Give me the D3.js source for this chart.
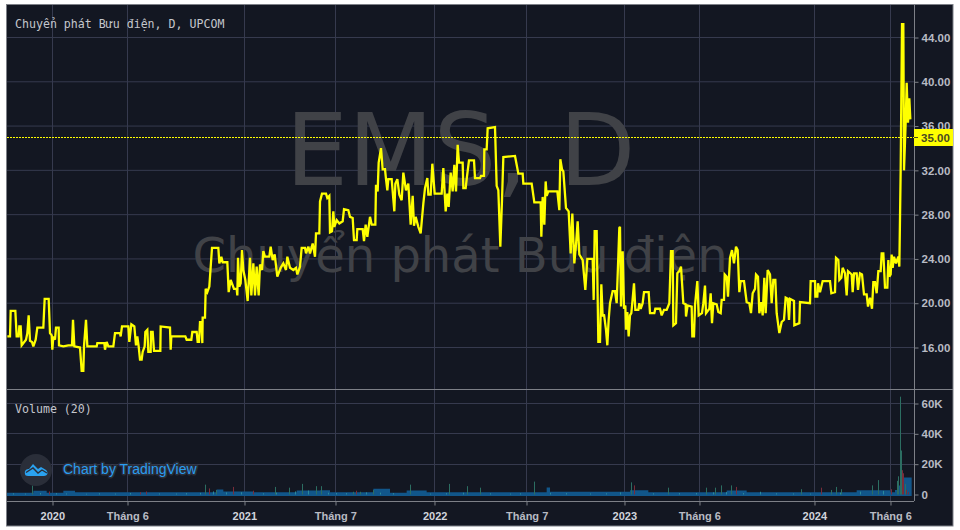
<!DOCTYPE html>
<html><head><meta charset="utf-8">
<script src="https://d3js.org/d3.v7.min.js"></script>
<style>
html,body{margin:0;padding:0;background:#fff;overflow:hidden}
svg{display:block}
</style></head><body><svg id="c" width="960" height="530"></svg>
<script>
// time position index on the chart's session axis
const priceT=[22,30,32,46,50,56,58,62,65,78,82,86,90,96,100,107,112,130,134,146,150,155,157,160,165,168,176,177,190,205,216,219,223,240,245,250,252,258,262,290,292,313,315,320,325,340,345,360,362,366,385,388,394,403,408,412,416,420,425,428,434,436,442,445,452,453,458,462,481,482,510,512,514,556,560,574,577,590,593,597,600,604,607,608,615,617,622,628,636,655,658,664,668,682,686,692,702,710,712,714,718,722,726,730,736,743,750,754,760,765,770,776,780,786,790,795,808,812,818,824,832,842,850,858,862,870,880,888,892,900,
905,915,918,925,930,938,945,948,958,960,966,978,982,988,990,996,1000,1003,1010,1018,1028,1032,1045,1050,1058,1062,1070,1072,1088,1092,1097,1102,1110,1115,1126,1128,1133,1136,1143,1148,1155,1158,1162,1165,1175,1183,1186,1192,1198,1205,1210,1218,1225,1232,1238,1242,1247,1255,1262,1270,1275,1282,1285,1292,1297,1304,1325,1330,1337,1342,1346,1352,1358,1363,1368,1373,1377,1388,1390,1397,1400,1407,1422,1425,1440,1443,1452,1453,1460,1463,1485,1490,1495,1501,1506,1510,1545,1550,1555,1568,1570,1595,1603,1622,1624,1628,1633,1637,1640,1645,1672,1678,1681,1686,1690,1698,1706,1712,1717,1723,1728,1733,1738,1748,1756,1762,1778,1781,1784,1790,1795,1800,1804,1808,1812,1818,1822,1826,1830,1838,1845,1850,1858,
1860,1863,1868,1872,1876,1878,1882,1886,1890,1894,1898,1902,1906,1915,1918,1922,1928,1932,1946,1950,1963,1966,1980,1985,1992,2000,2008,2013,2018,2020,2028,2032,2038,2043,2050,2057,2058,2063,2075,2077,2082,2085,2092,2096,2106,2110,2115,2118,2128,2132,2136,2140,2150,2155,2162,2165,2172,2174,2180,2184,2190,2196,2202,2208,2213,2218,2222,2232,2240,2248,2253,2258,2265,2268,2274,2278,2284,2288,2293,2297,2303,2310,2315,2320,2326,2330,2338,2345,2352,2357,2363,2367,2370,2382,2383,2398,2400,2430,2432,2445,2446,2452,2454,2460,2468,2490,2494,2505,2508,2515,2518,2524,2528,2535,2540,2544,2555,2558,2562,2570,2574,
2580,2586,2592,2600,2604,2610,2616,2620,2625,2630,2635,2642,2645,2650,2655,2662,2665,2668,2672,2675,2678,2682,2688,2695,2698,2702,2706,2710,2712,2717,2720,2724,2728,2731];
const priceV=[17.0,17.0,19.3,19.3,17.0,17.0,17.9,17.9,16.2,16.7,17.3,18.9,16.6,16.5,16.1,16.7,17.8,17.8,20.4,20.4,17.3,17.1,15.8,17.0,16.7,17.8,17.8,16.2,16.1,16.2,16.2,18.5,16.1,16.0,13.9,13.9,16.1,18.5,16.1,16.1,16.4,16.4,15.8,16.5,16.1,16.1,17.3,17.3,17.0,17.9,17.9,16.5,18.1,17.9,16.2,17.0,16.1,14.9,14.9,15.6,16.1,17.4,17.6,15.6,15.6,17.4,17.4,15.7,15.7,17.9,17.8,15.8,17.0,17.0,16.7,16.7,17.4,17.4,16.5,16.5,18.3,18.3,16.4,18.7,18.7,21.3,21.0,21.5,25.0,25.0,23.6,24.2,23.7,23.7,21.0,22.1,21.3,21.3,20.7,24.1,21.5,21.8,24.8,23.0,22.1,20.2,24.1,20.7,23.6,20.7,23.3,20.7,23.5,23.0,24.7,24.2,24.2,25.1,23.9,24.4,22.4,23.2,23.6,23.0,24.2,23.2,23.0,23.2,22.6,23.3,
25.0,25.0,24.5,25.1,24.5,25.4,24.2,26.3,26.3,29.2,29.9,29.9,29.5,29.7,26.4,26.5,28.3,26.9,27.5,27.2,27.4,28.5,28.4,27.8,27.7,25.7,25.7,26.7,26.7,25.6,27.1,26.0,27.8,27.1,27.1,30.7,30.1,32.7,34.0,32.1,32.1,31.2,30.2,31.2,31.2,28.3,30.8,31.2,29.8,29.3,31.8,30.2,30.8,27.1,29.7,27.0,27.8,26.9,26.3,29.0,30.4,31.3,29.8,29.8,32.6,29.9,29.9,32.2,28.3,29.9,28.7,31.8,30.1,32.5,30.1,34.3,32.7,32.7,30.4,30.4,31.2,32.9,32.9,31.3,31.3,31.5,31.5,33.9,33.9,35.8,35.9,30.6,30.2,25.1,29.3,33.2,33.3,32.5,31.7,31.7,30.8,30.8,29.1,29.1,26.0,29.6,27.1,31.0,29.7,30.1,30.1,28.4,33.0,32.1,31.9,28.6,28.3,24.5,28.1,23.6,25.3,27.4,24.4,23.9,21.2,24.0,24.0,20.3,26.5,26.5,16.5,16.5,21.7,18.8,19.0,17.6,16.2,18.5,20.0,21.1,21.1,20.0,26.8,
26.9,19.7,24.7,19.5,19.8,17.6,19.2,17.0,18.9,19.1,20.4,21.8,19.4,19.4,20.0,19.5,20.0,21.0,21.0,19.1,19.1,19.5,19.5,18.9,19.4,19.4,20.0,24.7,24.7,18.0,18.2,22.7,22.9,23.3,20.0,19.9,18.8,19.8,19.7,17.0,17.0,19.8,22.0,18.9,19.1,20.0,21.6,19.1,19.5,20.9,18.2,20.0,19.9,19.2,19.1,20.3,20.3,22.6,22.4,20.6,24.1,24.8,23.6,25.1,24.8,21.0,22.0,22.0,20.1,20.0,19.1,20.9,21.3,22.6,22.4,19.1,20.1,18.9,22.3,19.1,23.0,22.6,20.0,22.1,22.1,19.1,17.3,18.3,18.5,20.5,20.4,18.5,20.4,20.2,18.0,18.2,20.1,20.0,22.0,22.0,20.6,20.6,21.8,21.0,22.0,22.0,20.9,21.0,24.1,23.9,22.1,22.3,23.2,22.7,20.7,22.9,22.6,21.0,22.7,22.7,21.2,
22.7,22.6,20.8,20.8,19.7,20.5,19.5,21.9,21.9,20.9,22.9,22.9,24.5,24.5,21.4,21.4,23.9,22.4,22.6,24.4,23.2,24.2,23.6,24.2,23.3,32.0,45.2,45.2,32.0,36.3,39.9,36.3,38.5,36.6,35.0];
const lastPrice=35;

const priceTicks=[16,20,24,28,32,36,40,44];
const volumeTicks=[0,20,40,60];
const timeTicks=[157,382,733,1006,1304,1580,1873,2098,2443,2671];
const timeLabels=["2020","Tháng 6","2021","Tháng 7","2022","Tháng 7","2023","Tháng 6","2024","Tháng 6"];
const yearLabels=["2020","2021","2022","2023","2024"];

// volume in thousands
const spikeT=[96,147,420,440,615,628,650,700,760,826,868,907,949,964,1060,1069,1081,1120,1231,1348,1402,1441,1603,1894,1903,2005,2119,2146,2164,2194,2210,2405,2465,2494,2509,2524,2617,2635,2675,2692,2695,2701,2704,2707,2710,2715,2720,2725];
const spikeK=[6,2,1.5,2,6.5,4,3,5,2.5,5,4.5,7,5.5,5.5,1.8,2.5,1.8,3,6.5,7,5.5,4.5,8.5,8,6,4.5,4.5,4.5,6,6,5,3.5,4.5,3,5,3.5,6,9.5,3.5,9,12,64.5,29,16,14,7,3,1.5];
const spikeUp=[1,0,0,0,1,0,1,0,0,1,1,1,1,1,1,0,1,1,1,1,1,1,1,1,0,1,1,1,1,1,0,1,0,1,1,1,1,1,0,1,1,1,1,0,0,1,0,0];
const smallT=[40,75,120,170,200,260,300,345,390,480,530,560,600,640,680,725,790,830,885,925,985,1010,1040,1100,1140,1180,1290,1340,1390,1470,1530,1560,1650,1700,1770,1820,1860,1960,2040,2090,2140,2180,2230,2280,2330,2380,2430,2520,2580,2650];
const smallK=[.8,.6,1,.9,.7,.5,.8,.6,1,.7,.6,.9,1.1,2,1.4,1.5,.8,1.2,2,2.6,1.2,1,.9,1.4,1.2,.9,.6,.9,1.2,.8,.6,.8,1.1,.9,.7,.8,1.4,.8,.9,1,1.4,1.6,1,1.8,.8,.7,.6,1.2,1.9,2.4];
const maT=[21,100,140,190,225,610,650,670,760,890,960,990,1120,1170,1220,1280,1640,1650,1860,1890,1945,2180,2240,2570,2670,2685,2695,2705,2735];
const maK=[1.1,2.4,1.1,2.4,1.5,1.5,3.3,2,1.5,2.6,2.8,1.5,3.8,1.1,2.6,1.5,4.6,1.8,1.8,2.8,1.5,2.6,1.5,2.8,1.5,3,6,11.2,11.2];
const maFloor=-1;

const title="Chuyển phát Bưu điện, D, UPCOM";
const volumeTitle="Volume (20)";
const mark1="EMS, D", mark2="Chuyển phát Bưu điện";
const attribution="Chart by TradingView";

const paneL=7,paneR=914,paneT=5,divY=389,paneB=501,frameR=953,frameB=526;
const svg=d3.select("#c");
const x=d3.scaleLinear().domain([21,2742]).range([paneL,paneR]);
const y=d3.scaleLinear().domain([16,44]).range([347.5,37.5]);
const yv=d3.scaleLinear().domain([0,60]).range([494.5,403.5]);
const snap=v=>Math.floor(v)+.5;
const C={bg:"#131722",grid:"#363a4e",frame:"#7d8087",txt:"#b8bbc4",yel:"#ffff00"};

svg.append("rect").attr("x",6.5).attr("y",4.5).attr("width",frameR-6.5).attr("height",frameB-4.5)
  .attr("fill",C.bg).attr("stroke",C.frame);

svg.append("clipPath").attr("id","pane").append("rect")
  .attr("x",paneL).attr("y",paneT).attr("width",paneR-paneL).attr("height",divY-paneT);
svg.append("clipPath").attr("id","vpane").append("rect")
  .attr("x",paneL).attr("y",divY).attr("width",paneR-paneL).attr("height",paneB-divY);

// grid
const g=svg.append("g").attr("stroke",C.grid).attr("stroke-width",1);
g.selectAll(".v").data(timeTicks).join("line").attr("class","v").attr("x1",d=>snap(x(d))).attr("x2",d=>snap(x(d))).attr("y1",paneT).attr("y2",paneB);
g.selectAll(".h").data(priceTicks).join("line").attr("class","h").attr("x1",paneL).attr("x2",paneR).attr("y1",d=>y(d)).attr("y2",d=>y(d));
g.selectAll(".hv").data(volumeTicks.slice(1)).join("line").attr("class","hv").attr("x1",paneL).attr("x2",paneR).attr("y1",d=>snap(yv(d))).attr("y2",d=>snap(yv(d)));

// watermark
const wm=svg.append("g").attr("text-anchor","middle").attr("fill","#404247").attr("font-family","'DejaVu Sans',sans-serif");
wm.append("text").attr("x",460.5).attr("y",185).attr("font-size",99).text(mark1);
wm.append("text").attr("x",460).attr("y",272).attr("font-size",48).text(mark2);

// volume
const vg=svg.append("g").attr("clip-path","url(#vpane)");
const maData=maT.map((t,i)=>({t,k:maK[i]}));
vg.append("path").datum(maData)
  .attr("d",d3.area().x(d=>x(d.t)).y0(yv(maFloor)).y1(d=>yv(d.k)).curve(d3.curveStepAfter))
  .attr("fill","#11568a");
vg.selectAll(".sm").data(smallT).join("line").attr("class","sm")
  .attr("x1",d=>snap(x(d))).attr("x2",d=>snap(x(d))).attr("y1",yv(0))
  .attr("y2",(d,i)=>yv(smallK[i])).attr("stroke","#2b8a9a");
vg.selectAll(".sp").data(spikeT).join("line").attr("class","sp")
  .attr("x1",d=>snap(x(d))).attr("x2",d=>snap(x(d))).attr("y1",yv(0))
  .attr("y2",(d,i)=>yv(spikeK[i]))
  .attr("stroke",(d,i)=>spikeUp[i]?"#2c6e62":"#7a2d3a");

// price
const line=d3.line().x(d=>x(d[0])).y(d=>y(d[1]));
svg.append("path").datum(priceT.map((t,i)=>[t,priceV[i]]))
  .attr("clip-path","url(#pane)")
  .attr("d",line).attr("fill","none").attr("stroke",C.yel).attr("stroke-width",2.3).attr("stroke-linejoin","miter").attr("stroke-miterlimit",3);

// last price line
svg.append("line").attr("x1",paneL).attr("x2",paneR).attr("y1",snap(y(lastPrice))).attr("y2",snap(y(lastPrice)))
  .attr("stroke",C.yel).attr("stroke-dasharray","2,1");

// pane frame
svg.append("line").attr("x1",paneL).attr("x2",frameR).attr("y1",divY+.5).attr("y2",divY+.5).attr("stroke",C.frame);
svg.append("line").attr("x1",paneL).attr("x2",paneR).attr("y1",paneB+.5).attr("y2",paneB+.5).attr("stroke",C.frame);
svg.append("line").attr("x1",paneR+.5).attr("x2",paneR+.5).attr("y1",paneT).attr("y2",paneB).attr("stroke",C.frame);

// axes
function style(sel,fs){
  sel.select(".domain").remove();
  sel.selectAll("line").attr("stroke",C.frame);
  sel.selectAll("text").attr("fill",C.txt).attr("font-family","'Liberation Sans',Arial,sans-serif").attr("font-size",fs).attr("font-weight",600);
}
const ax1=svg.append("g").attr("transform",`translate(${paneR+.5},0)`)
  .call(d3.axisRight(y).tickValues(priceTicks).tickFormat(d3.format(".2f")).tickSize(4).tickPadding(3));
style(ax1,11.5);
const ax2=svg.append("g").attr("transform",`translate(${paneR+.5},0)`)
  .call(d3.axisRight(yv).tickValues(volumeTicks).tickFormat(d=>d?d+"K":"0").tickSize(4).tickPadding(3));
style(ax2,11.5);
const ax3=svg.append("g").attr("transform",`translate(0,${paneB+.5})`)
  .call(d3.axisBottom(x).tickValues(timeTicks).tickFormat((d,i)=>timeLabels[i]).tickSize(4).tickPadding(7));
style(ax3,11);
ax3.selectAll("line").attr("x1",d=>snap(x(d))-x(d)).attr("x2",d=>snap(x(d))-x(d));
ax3.selectAll("text").filter(d=>yearLabels.includes(timeLabels[timeTicks.indexOf(d)])).attr("font-weight",700).attr("fill","#d1d4dc");

// last price tag
svg.append("rect").attr("x",paneR).attr("y",snap(y(lastPrice))-8.5).attr("width",frameR-paneR).attr("height",17).attr("fill",C.yel);
svg.append("text").attr("x",921).attr("y",snap(y(lastPrice))+4).attr("fill","#4a4a20")
  .attr("font-family","'Liberation Sans',Arial,sans-serif").attr("font-size",11.5).attr("font-weight",600).text(d3.format(".2f")(lastPrice));
svg.append("line").attr("x1",paneR).attr("x2",paneR+4).attr("y1",snap(y(lastPrice))).attr("y2",snap(y(lastPrice))).attr("stroke","#4a4a20");

// titles
const lab=svg.append("g").attr("fill","#c4c6cc").attr("font-family","'DejaVu Sans Mono',monospace").attr("font-size",11.6);
lab.append("text").attr("x",15).attr("y",28).text(title);
lab.append("text").attr("x",15).attr("y",413).text(volumeTitle);

// attribution
const lg=svg.append("g");
lg.append("circle").attr("cx",36).attr("cy",470).attr("r",16).attr("fill","#2a2e39");
lg.append("path").attr("transform","translate(36,470)")
  .attr("d","M-11,4 C-12,0 -9,-1 -7,-1 L-3,-6 L2,-1 L5,-3 L10,0 C13,3 11,6 8,6 L-8,6 C-10,6 -11,5 -11,4Z")
  .attr("fill","#2aa2f0");
lg.append("path").attr("transform","translate(36,470)")
  .attr("d","M-10,2.5 L-3,-2 L2,3 L6,0 L11,3").attr("fill","none").attr("stroke","#2a2e39").attr("stroke-width",1.4);
lg.append("text").attr("x",63).attr("y",474).attr("font-family","'Liberation Sans',Arial,sans-serif").attr("font-size",14)
  .attr("fill","#2a9df0").attr("stroke","#2a2e39").attr("stroke-width",3).attr("paint-order","stroke").attr("stroke-linejoin","round").text(attribution);
</script></body></html>
